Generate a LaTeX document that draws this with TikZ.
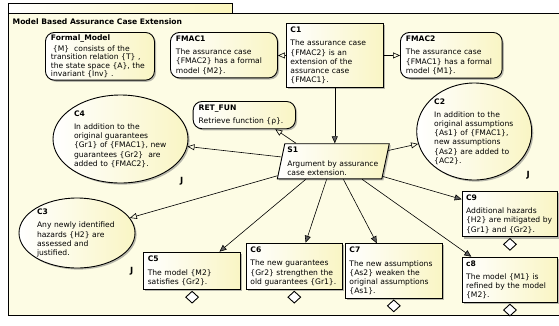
\documentclass[tikz,border=0pt]{standalone}
\usepackage{fontspec}
\setmainfont{DejaVu Sans}
\usetikzlibrary{positioning,calc,shapes.geometric,shadows,arrows.meta}

\definecolor{pkgfill}{RGB}{253,252,228}
\definecolor{tabfill}{RGB}{252,246,188}
\definecolor{gsnfill}{RGB}{249,245,196}
\definecolor{headfill}{RGB}{96,96,96}

\tikzset{
  gsn/.style={draw, line width=0.9pt, left color=white, right color=gsnfill,
    drop shadow={shadow xshift=1.6pt, shadow yshift=-1.6pt, fill=black!55},
    font=\fontsize{7.6}{9.2}\selectfont, align=left, inner xsep=4pt, inner ysep=3.5pt},
  goalbox/.style={gsn, rectangle, anchor=north west},
  ctxbox/.style={gsn, rectangle, rounded corners=9pt, anchor=north west, inner xsep=5.5pt},
  justell/.style={gsn, ellipse, inner sep=0pt},
  strat/.style={gsn, trapezium, trapezium left angle=78, trapezium right angle=102, inner xsep=2.5pt},
  undev/.style={draw, line width=0.9pt, fill=white, diamond, minimum width=13pt, minimum height=12pt, inner sep=0pt},
  jmark/.style={font=\fontsize{8.5}{10}\selectfont\bfseries},
  incontext/.style={line width=0.6pt, -{Triangle[open, length=7pt, width=6pt]}},
  supported/.style={line width=0.6pt, -{Triangle[length=7pt, width=6pt, fill=headfill]}},
}

\begin{document}
\begin{tikzpicture}[x=1pt,y=-1pt]
\useasboundingbox (0,0) rectangle (559,325);

% package frame
\draw[line width=0.9pt, fill=pkgfill] (8.5,13) rectangle (562,315);
\draw[line width=0.9pt, left color=white, right color=tabfill] (8.5,3) rectangle (232,13);
\node[anchor=base west, inner sep=0pt, font=\fontsize{7.6}{9}\selectfont\bfseries] (pkgtitle) at (12.5,24) {Model Based Assurance Case Extension};

% context and goal boxes
\node[ctxbox, text width=98pt, inner ysep=2.5pt, font=\fontsize{7.6}{8.3}\selectfont] (formal) at (45,32) {\textbf{Formal\_Model}\\[2.5pt]
  \hspace*{2pt}\{M\}\ \ consists of the\\transition relation \{T\} ,\\the state space \{A\}, the\\invariant \{Inv\} .};
\node[ctxbox, text width=96pt, minimum height=45pt] (fmac1) at (170,32) {\textbf{FMAC1}\\[4pt]
  The assurance case\\\{FMAC2\} has a formal\\model \{M2\}.};
\node[goalbox, text width=88.7pt, minimum height=64pt] (C1) at (286,23) {\textbf{C1}\\[4pt]
  The assurance case\\\{FMAC2\} is an\\extension of the\\assurance case\\\{FMAC1\}.};
\node[ctxbox, text width=90.7pt, minimum height=45.7pt] (fmac2) at (400,32) {\textbf{FMAC2}\\[4pt]
  The assurance case\\\{FMAC1\} has a formal\\model \{M1\}.};
\node[ctxbox, text width=91.3pt, minimum height=27.3pt] (retfun) at (192.7,101) {\textbf{RET\_FUN}\\[4pt]
  Retrieve function \{ρ\}.};

% strategy
\node[strat, text width=92pt] (S1) at (333.3,161.3) {\textbf{S1}\\[4pt]
  Argument by assurance\\case extension.};

% justifications
\node[justell, minimum width=135pt, minimum height=88pt, text width=93pt] (C4) at (120.5,139) {\textbf{C4}\\[4pt]
  In addition to the\\original guarantees\\\{Gr1\} of \{FMAC1\}, new\\guarantees \{Gr2\}\ \ are\\added to \{FMAC2\}.};
\node[justell, minimum width=115pt, minimum height=97pt, text width=80pt] (C2) at (474.2,131.5) {\textbf{C2}\\[4pt]
  In addition to the\\original assumptions\\\{As1\} of \{FMAC1\},\\new assumptions\\\{As2\} are added to\\\{AC2\}.};
\node[justell, minimum width=116pt, minimum height=70pt, text width=80pt] (C3) at (77,233) {\textbf{C3}\\[4pt]
  Any newly identified\\hazards \{H2\} are\\assessed and\\justified.};
\node[jmark] (C4j) at (181.7,181.7) {J};
\node[jmark] (C2j) at (528.3,175) {J};
\node[jmark] (C3j) at (131.7,271.7) {J};

% sub-goals
\node[goalbox, text width=88.7pt, minimum height=37.6pt] (C5) at (143.3,251.7) {\textbf{C5}\\[4pt]
  The model \{M2\}\\satisfies \{Gr2\}.};
\node[goalbox, text width=87.7pt, minimum height=46.6pt] (C6) at (246,242.7) {\textbf{C6}\\[4pt]
  The new guarantees\\\{Gr2\} strengthen the\\old guarantees \{Gr1\}.};
\node[goalbox, text width=88.7pt] (C7) at (345,243.3) {\textbf{C7}\\[4pt]
  The new assumptions\\\{As2\} weaken the\\original assumptions\\\{As1\}.};
\node[goalbox, text width=87.6pt, minimum height=45pt] (C9) at (461.7,191) {\textbf{C9}\\[4pt]
  Additional hazards\\\{H2\} are mitigated by\\\{Gr1\} and \{Gr2\}.};
\node[goalbox, text width=87.6pt, minimum height=43.3pt] (c8) at (461.7,256.7) {\textbf{c8}\\[4pt]
  The model \{M1\} is\\refined by the model\\\{M2\}.};

% undeveloped marks
\node[undev, below=0.5pt of C5] (C5u) {};
\node[undev, below=0.5pt of C6] (C6u) {};
\node[undev, below=0.5pt of C7] (C7u) {};
\node[undev, below=0.5pt of C9] (C9u) {};
\node[undev, below=0.5pt of c8] (c8u) {};

% links
\draw[incontext] (C1.west) -- (C1.west -| fmac1.east);
\draw[incontext] (C1.east) -- (C1.east -| fmac2.west);
\draw[supported] (C1.south) -- (C1.south |- S1.north);
\draw[incontext] ($(S1.top left corner)!0.11!(S1.top right corner)$) -- ($(retfun.south west)!0.8!(retfun.south east)$);
\draw[incontext] ($(S1.bottom left corner)!0.62!(S1.top left corner)$) -- (C4);
\draw[incontext] ($(S1.bottom right corner)!0.8!(S1.top right corner)$) -- (C2);
\draw[incontext] ($(S1.bottom left corner)!0.1!(S1.top left corner)$) -- (C3);
\draw[supported] ($(S1.bottom left corner)!0.275!(S1.bottom right corner)$) -- ($(C5.north west)!0.78!(C5.north east)$);
\draw[supported] ($(S1.bottom left corner)!0.473!(S1.bottom right corner)$) -- ($(C6.north west)!0.617!(C6.north east)$);
\draw[supported] ($(S1.bottom left corner)!0.632!(S1.bottom right corner)$) -- ($(C7.north west)!0.326!(C7.north east)$);
\draw[supported] ($(S1.bottom left corner)!0.81!(S1.bottom right corner)$) -- ($(c8.north west)!0.1!(c8.north east)$);
\draw[supported] ($(S1.bottom right corner)!0.08!(S1.top right corner)$) -- ($(C9.north west)!0.18!(C9.south west)$);
\end{tikzpicture}
\end{document}
